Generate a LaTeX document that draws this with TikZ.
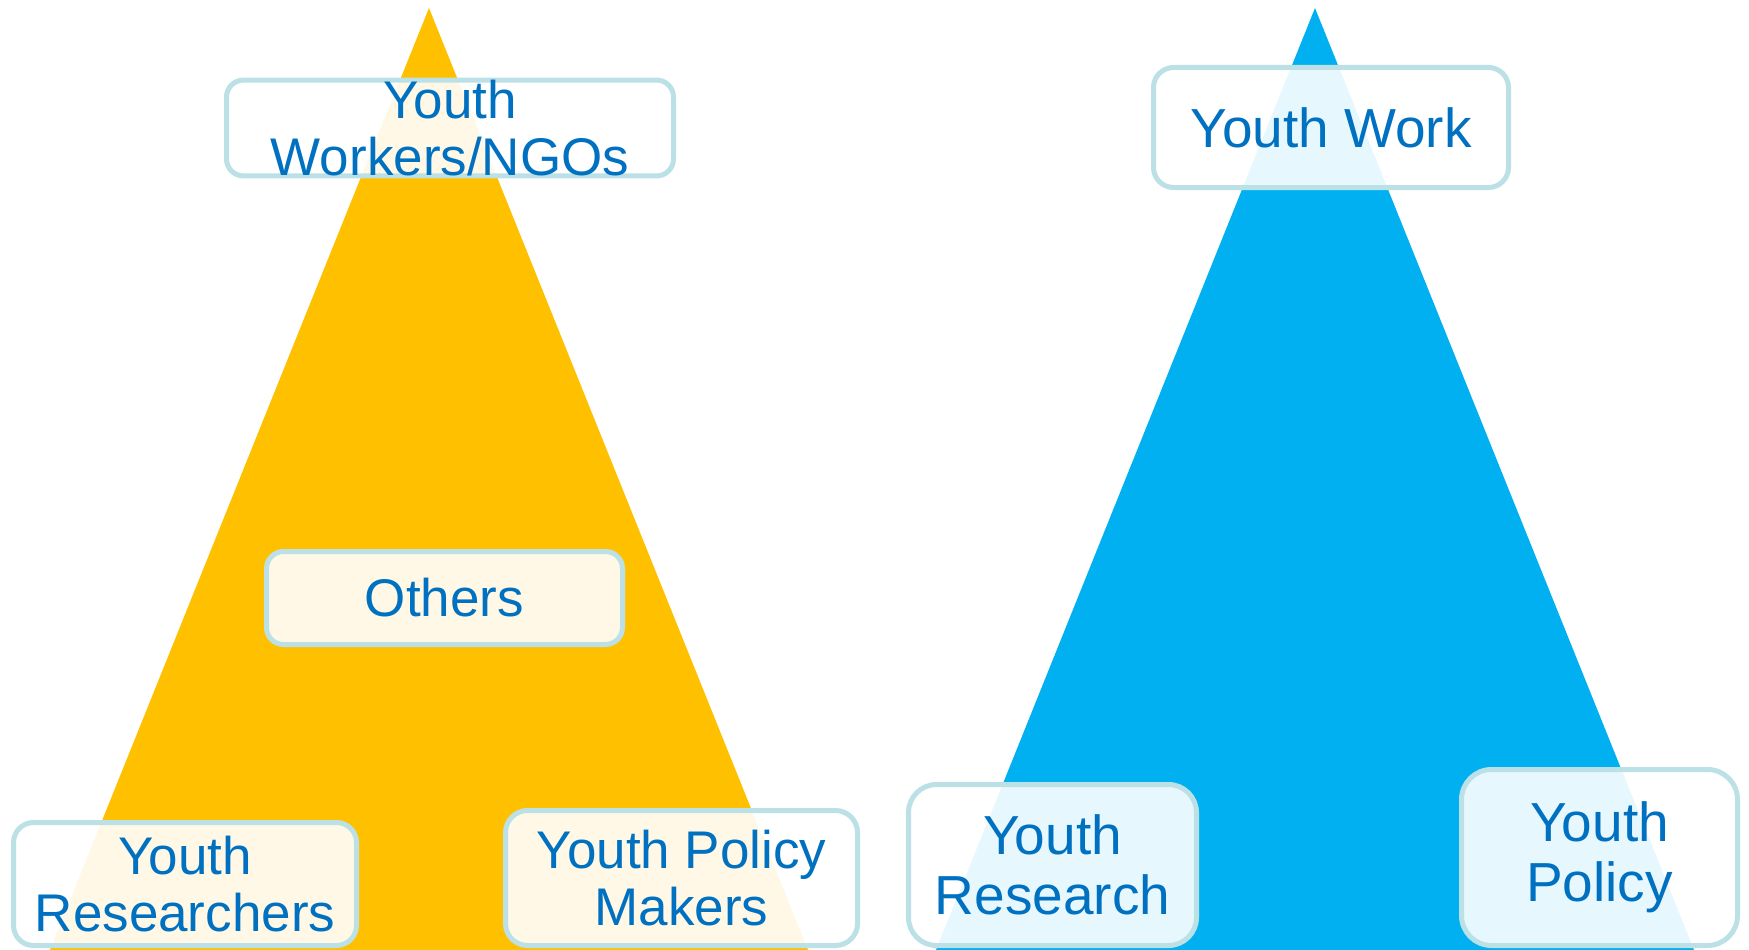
\documentclass[tikz,border=0pt]{standalone}
\usepackage{fontspec}
\setmainfont{Liberation Sans}
\usepackage{tikz}
\definecolor{Y}{RGB}{255, 192, 0}
\definecolor{B}{RGB}{0, 176, 240}
\definecolor{T}{RGB}{0, 112, 192}
\definecolor{L}{RGB}{187, 224, 229}
\tikzset{
	grp/.style={draw=L, line width=5pt, fill=white, fill opacity=0.9, text opacity=1,
		text=T, align=center, inner sep=0pt, rounded corners=17pt},
	lft/.style={font=\fontsize{53}{57}\selectfont},
	rgt/.style={font=\fontsize{55}{60}\selectfont}
}

\begin{document}
\begin{tikzpicture}[x=1pt, y=-1pt]
	\useasboundingbox (0,0) rectangle (1749,950);

	%Triangulo izquierdo (amarillo)
	\fill[color=Y] (429,8) -- (808,950) -- (50,950) -- cycle;
	%Triangulo derecho (azul)
	\fill[color=B] (1315,8) -- (1694,950) -- (936,950) -- cycle;

	%Cajas de la izquierda
	\node[grp, lft, minimum width=447pt, minimum height=93pt] (workers) at (450,128) {Youth\\Workers/NGOs};
	\node[grp, lft, minimum width=356pt, minimum height=93pt] (others) at (444.5,598) {Others};
	\node[grp, lft, minimum width=343pt, minimum height=123pt, rounded corners=20pt] (researchers) at (185,884) {Youth\\Researchers};
	\node[grp, lft, minimum width=352pt, minimum height=135pt, rounded corners=22pt] (makers) at (681.5,878) {Youth Policy\\Makers};

	%Cajas de la derecha
	\node[grp, rgt, minimum width=355pt, minimum height=120pt, rounded corners=20pt] (work) at (1331,127.5) {Youth Work};
	\node[grp, rgt, minimum width=288pt, minimum height=161pt, rounded corners=28pt] (research) at (1052.5,865) {Youth\\Research};
	\node[grp, rgt, minimum width=276pt, minimum height=176pt, rounded corners=30pt] (policy) at (1599.5,857.5) {Youth\\Policy};
\end{tikzpicture}
\end{document}
